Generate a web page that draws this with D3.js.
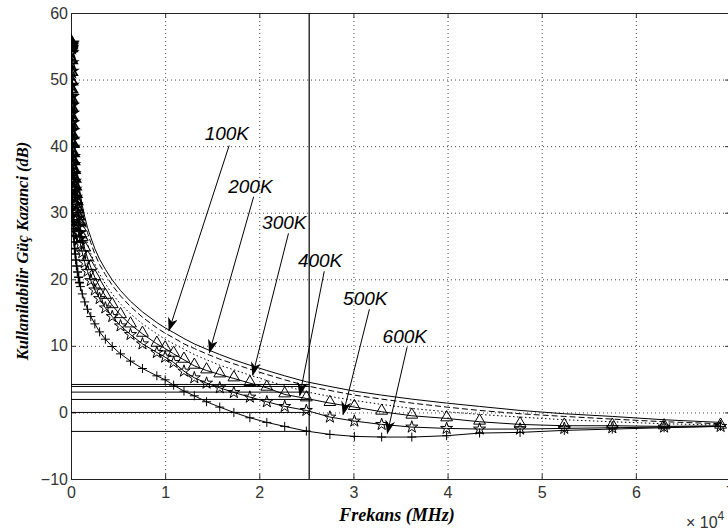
<!DOCTYPE html>
<html>
<head>
<meta charset="utf-8">
<script src="https://cdn.jsdelivr.net/npm/d3@7"></script>
<style>
  body { margin: 0; background: #fff; }
  svg { display: block; }
</style>
</head>
<body>
<div id="chart"></div>
<script>
// frequency samples (x 10^4 MHz) and gain curves (dB), dense near 0
let freq = [0.0005, 0.0007, 0.001, 0.0013, 0.0016, 0.002, 0.0025, 0.003, 0.004, 0.005, 0.006, 0.007, 0.0085, 0.01, 0.012, 0.014, 0.017, 0.02, 0.024, 0.028, 0.033, 0.039, 0.045, 0.052, 0.06, 0.07, 0.08, 0.09,
  0.1, 0.12, 0.146, 0.175, 0.21, 0.253, 0.304, 0.365, 0.438, 0.526, 0.632, 0.759, 0.912,
  1.0, 1.09, 1.2, 1.31, 1.44, 1.58, 1.73, 1.9, 2.08, 2.27, 2.5, 2.75, 3.01, 3.3, 3.62, 3.99, 4.34, 4.77, 5.24, 5.75, 6.3, 6.9];

let g100K = [55.6, 55.6, 55.6, 55.6, 55.6, 55.6, 55.6, 55.6, 55.6, 55.5, 55.3, 54.9, 53.6, 52.7, 51.1, 49.8, 48.1, 46.7, 45.1, 43.8, 42.3, 40.9, 39.6, 38.4, 37.1, 35.8, 34.6, 33.6,
  32.7, 31.1, 29.4, 27.8, 26.3, 24.6, 23.0, 21.5, 19.9, 18.3, 16.7, 15.1, 13.5,
  12.7, 12.0, 11.1, 10.3, 9.5, 8.7, 7.9, 7.1, 6.3, 5.5, 4.6, 3.9, 3.2, 2.6, 2.0, 1.4, 0.9, 0.3, -0.2, -0.6, -1.1, -1.5];
let g200K = [55.5, 55.5, 55.5, 55.5, 55.5, 55.5, 55.5, 55.5, 55.5, 55.4, 55.1, 54.4, 53.3, 51.9, 50.3, 49.0, 47.3, 45.9, 44.3, 43.0, 41.5, 40.1, 38.8, 37.6, 36.3, 35.0, 33.8, 32.8,
  31.9, 30.3, 28.6, 27.0, 25.5, 23.8, 22.2, 20.7, 19.1, 17.5, 15.9, 14.3, 12.7,
  11.9, 11.2, 10.3, 9.6, 8.8, 8.0, 7.3, 6.5, 5.7, 4.9, 4.0, 3.3, 2.6, 2.0, 1.4, 0.8, 0.3, -0.2, -0.6, -1.0, -1.4, -1.7];
let g300K = [55.5, 55.5, 55.5, 55.5, 55.5, 55.5, 55.5, 55.5, 55.2, 54.7, 53.2, 51.9, 50.3, 49.0, 47.5, 46.2, 44.6, 43.3, 41.8, 40.5, 39.1, 37.8, 36.6, 35.4, 34.2, 32.9, 31.8, 30.9,
  30.0, 28.5, 26.9, 25.4, 23.9, 22.3, 20.8, 19.3, 17.8, 16.3, 14.8, 13.3, 11.8,
  11.0, 10.3, 9.5, 8.7, 7.9, 7.1, 6.4, 5.6, 4.8, 4.0, 3.1, 2.4, 1.8, 1.2, 0.6, 0.1, -0.3, -0.7, -1.1, -1.4, -1.7, -1.9];
let g400K = [55.5, 55.5, 55.4, 55.4, 55.3, 55.2, 55.0, 54.6, 52.8, 51.0, 49.6, 48.4, 46.9, 45.6, 44.2, 43.0, 41.5, 40.2, 38.8, 37.6, 36.3, 35.0, 33.8, 32.7, 31.6, 30.4, 29.3, 28.4,
  27.6, 26.2, 24.6, 23.2, 21.8, 20.3, 18.9, 17.5, 16.1, 14.6, 13.2, 11.8, 10.3,
  9.6, 8.8, 7.9, 7.0, 6.3, 5.7, 5.1, 4.4, 3.7, 2.7, 2.1, 1.4, 0.8, 0.1, -0.5, -0.9, -1.4, -1.8, -2.0, -2.0, -2.1, -2.0];
let g500K = [55.4, 55.4, 55.3, 55.1, 54.8, 54.0, 52.5, 51.2, 49.1, 47.4, 46.1, 44.9, 43.5, 42.3, 41.0, 39.8, 38.4, 37.2, 35.8, 34.7, 33.5, 32.3, 31.2, 30.1, 29.1, 27.9, 26.9, 26.1,
  25.3, 24.0, 22.5, 21.2, 19.8, 18.4, 17.1, 15.7, 14.4, 13.0, 11.7, 10.3, 9.0,
  8.3, 7.5, 6.2, 5.2, 4.4, 3.7, 3.0, 2.3, 1.6, 0.9, 0.3, -0.7, -1.3, -1.8, -2.2, -2.4, -2.5, -2.5, -2.4, -2.3, -2.2, -2.1];
let g600K = [55.3, 53.0, 50.0, 47.4, 45.0, 43.0, 41.3, 40.2, 38.5, 37.1, 36.0, 35.1, 33.9, 32.9, 31.8, 30.9, 29.7, 28.7, 27.6, 26.6, 25.6, 24.6, 23.8, 22.9, 22.0, 21.1, 20.3, 19.5,
  18.9, 17.8, 16.6, 15.5, 14.4, 13.3, 12.1, 11.0, 9.9, 8.8, 7.7, 6.6, 5.5,
  4.9, 4.1, 3.2, 2.5, 1.6, 0.8, 0.0, -0.8, -1.5, -2.1, -2.8, -3.3, -3.6, -3.7, -3.7, -3.5, -3.1, -3.0, -2.7, -2.5, -2.3, -2.1];

// cut-off frequency and the gain of each curve there
let cutoffFreq = 2.53;
let cutoffGain = [4.2, 3.9, 3.05, 1.95, 0, -2.85];

// labels: text position, arrow start, arrow tip (data units)
let tempLabels = ["100K", "200K", "300K", "400K", "500K", "600K"];
let labelX = [1.42, 1.67, 2.03, 2.41, 2.89, 3.31];
let labelY = [40.9, 33.0, 27.6, 21.8, 16.1, 10.5];
let arrowFromX = [1.68, 1.94, 2.31, 2.69, 3.17, 3.57];
let arrowFromY = [40.1, 32.4, 26.9, 21.2, 15.5, 9.8];
let arrowToX = [1.04, 1.47, 1.93, 2.43, 2.89, 3.36];
let arrowToY = [12.3, 9.0, 5.6, 2.55, -0.3, -3.15];

let xTicks = [0, 1, 2, 3, 4, 5, 6, 7];
let yTicks = [-10, 0, 10, 20, 30, 40, 50, 60];

let W = 728, H = 531;
let margin = {top: 13, left: 71, bottom: 479, right: 730};

let svg = d3.select("#chart").append("svg")
  .attr("width", W)
  .attr("height", H);

let x = d3.scaleLinear().domain([0, 7]).range([margin.left, margin.right]);
let y = d3.scaleLinear().domain([-10, 60]).range([margin.bottom, margin.top]);

svg.append("defs").append("clipPath").attr("id", "plot")
  .append("rect")
    .attr("x", margin.left).attr("y", margin.top)
    .attr("width", margin.right - margin.left)
    .attr("height", margin.bottom - margin.top);

// dotted grid
let grid = svg.append("g").attr("stroke", "#444").attr("stroke-width", 1)
  .attr("stroke-dasharray", "1,3");
grid.selectAll(".gx").data(xTicks.slice(1, -1)).enter().append("line")
  .attr("x1", d => x(d) + 0.5).attr("x2", d => x(d) + 0.5)
  .attr("y1", margin.top).attr("y2", margin.bottom);
grid.selectAll(".gy").data(yTicks.slice(1, -1)).enter().append("line")
  .attr("x1", margin.left).attr("x2", margin.right)
  .attr("y1", d => y(d) + 0.5).attr("y2", d => y(d) + 0.5);

// axes, ticks pointing inward like matlab
let tickFont = "'Liberation Sans', Arial, sans-serif";
function styleAxis(g) {
  g.select(".domain").remove();
  g.selectAll(".tick line").attr("stroke", "#333");
  g.selectAll(".tick text").attr("fill", "#333")
    .attr("font-family", tickFont).attr("font-size", 16);
}
svg.append("g")
  .attr("transform", "translate(0," + margin.bottom + ")")
  .call(d3.axisBottom(x).tickValues(xTicks).tickSize(-5).tickPadding(8).tickFormat(d3.format("d")))
  .call(styleAxis);
svg.append("g")
  .attr("transform", "translate(0," + margin.top + ")")
  .call(d3.axisTop(x).tickValues(xTicks).tickSize(-5).tickFormat(""))
  .call(styleAxis);
svg.append("g")
  .attr("transform", "translate(" + margin.left + ",0)")
  .call(d3.axisLeft(y).tickValues(yTicks).tickSize(-5).tickPadding(3).tickFormat(d3.format("d")))
  .call(styleAxis);
svg.append("g")
  .attr("transform", "translate(" + margin.right + ",0)")
  .call(d3.axisRight(y).tickValues(yTicks).tickSize(-5).tickFormat(""))
  .call(styleAxis);

svg.append("rect")
  .attr("x", margin.left + 0.5).attr("y", margin.top + 0.5)
  .attr("width", margin.right - margin.left)
  .attr("height", margin.bottom - margin.top)
  .attr("fill", "none").attr("stroke", "#222");

let plot = svg.append("g").attr("clip-path", "url(#plot)");

// cut-off lines
plot.append("line")
  .attr("x1", x(cutoffFreq)).attr("x2", x(cutoffFreq))
  .attr("y1", margin.top).attr("y2", margin.bottom)
  .attr("stroke", "#000").attr("stroke-width", 1.2);
plot.selectAll(".hcut").data(cutoffGain).enter().append("line")
  .attr("x1", x(0)).attr("x2", x(cutoffFreq))
  .attr("y1", d => y(d)).attr("y2", d => y(d))
  .attr("stroke", "#000").attr("stroke-width", 1);

// curves
let series = [
  {v: g100K, dash: null, marker: null},
  {v: g200K, dash: "6,3", marker: null},
  {v: g300K, dash: "1.5,2.5", marker: null},
  {v: g400K, dash: null, marker: "tri"},
  {v: g500K, dash: null, marker: "star"},
  {v: g600K, dash: null, marker: "plus"}
];

let line = d3.line()
  .x(d => x(d[0]))
  .y(d => y(d[1]));

let markerPath = {
  tri: d3.symbol().type(d3.symbolTriangle).size(60)(),
  star: d3.symbol().type(d3.symbolStar).size(45)(),
  plus: "M-4.5,0H4.5M0,-4.5V4.5"
};

series.forEach(s => {
  let pts = freq.map((f, i) => [f, s.v[i]]);
  plot.append("path")
    .datum(pts)
    .attr("fill", "none")
    .attr("stroke", "#000")
    .attr("stroke-width", 1)
    .attr("stroke-dasharray", s.dash)
    .attr("d", line);
  if (s.marker) {
    plot.selectAll(null).data(pts).enter().append("path")
      .attr("transform", d => "translate(" + x(d[0]) + "," + (y(d[1]) + (s.marker === "tri" ? -1 : 0)) + ")")
      .attr("d", markerPath[s.marker])
      .attr("fill", "none")
      .attr("stroke", "#000")
      .attr("stroke-width", d => d[0] < 0.1 ? 1.6 : 1);
  }
});

// labels with arrows
svg.append("defs").append("marker")
  .attr("id", "head")
  .attr("viewBox", "0 -5 14 10")
  .attr("refX", 13).attr("refY", 0)
  .attr("markerWidth", 15).attr("markerHeight", 10)
  .attr("markerUnits", "userSpaceOnUse")
  .attr("orient", "auto")
  .append("path")
    .attr("d", "M0,-5L14,0L0,5L4,0Z")
    .attr("fill", "#000");

tempLabels.forEach((t, i) => {
  svg.append("line")
    .attr("x1", x(arrowFromX[i])).attr("y1", y(arrowFromY[i]))
    .attr("x2", x(arrowToX[i])).attr("y2", y(arrowToY[i]))
    .attr("stroke", "#000").attr("stroke-width", 1)
    .attr("marker-end", "url(#head)");
  svg.append("text")
    .attr("x", x(labelX[i])).attr("y", y(labelY[i]))
    .attr("font-family", tickFont)
    .attr("font-style", "italic")
    .attr("font-size", 19)
    .attr("fill", "#000")
    .text(t);
});

// axis titles
let titleFont = "'Liberation Serif', 'Times New Roman', serif";
svg.append("text")
  .attr("x", 397).attr("y", 521)
  .attr("text-anchor", "middle")
  .attr("font-family", titleFont)
  .attr("font-style", "italic").attr("font-weight", "bold")
  .attr("font-size", 18)
  .text("Frekans (MHz)");
svg.append("text")
  .attr("transform", "translate(28,251) rotate(-90)")
  .attr("text-anchor", "middle")
  .attr("font-family", titleFont)
  .attr("font-style", "italic").attr("font-weight", "bold")
  .attr("font-size", 16.5)
  .text("Kullanilabilir Güç Kazanci (dB)");

let expo = svg.append("text")
  .attr("x", 686).attr("y", 528)
  .attr("font-family", tickFont)
  .attr("font-size", 16)
  .attr("fill", "#333");
expo.append("tspan").text("\u00d7 10");
expo.append("tspan").attr("dy", -8).attr("font-size", 12).text("4");
</script>
</body>
</html>
